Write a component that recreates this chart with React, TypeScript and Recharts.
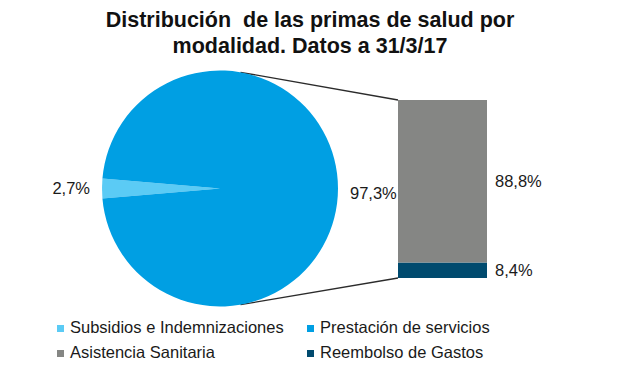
import React from 'react';
import { Bar, BarChart, Cell, LabelList, Pie, PieChart, XAxis, YAxis } from 'recharts';

// pie: modalidad
const pieNames = ['Subsidios e Indemnizaciones', 'Prestación de servicios'];
const pieValues = [2.7, 97.3];
const pieColors = ['#5BCBF5', '#009FE3'];

// barra: desglose de prestación de servicios
const barNames = ['Reembolso de Gastos', 'Asistencia Sanitaria'];
const barKeys = ['reembolso', 'asistencia'];
const barValues = [8.4, 88.8];
const barColors = ['#004A6E', '#858684'];

const legendItems = [
  { name: 'Subsidios e Indemnizaciones', color: '#5BCBF5' },
  { name: 'Prestación de servicios', color: '#009FE3' },
  { name: 'Asistencia Sanitaria', color: '#858684' },
  { name: 'Reembolso de Gastos', color: '#004A6E' },
];

const FONT = '"Liberation Sans", Arial, sans-serif';
const CX = 220;
const CY = 188.5;
const R = 118;
const BAR_X = 398;
const BAR_Y = 100;
const BAR_W = 89;
const BAR_H = 178;

const fmt = (v: number) => v.toFixed(1).replace('.', ',') + '%';

const pieData = pieNames.map((name, i) => ({ name, value: pieValues[i] }));
const barRow: Record<string, number | string> = { name: 'prestacion' };
barKeys.forEach((k, i) => (barRow[k] = barValues[i]));
const barData = [barRow];
const barTotal = barValues.reduce((a, b) => a + b, 0);

const half = (pieValues[0] / 100) * 180;
const START = 180 - half;

const RAD = Math.PI / 180;

function renderPieLabel(props: any) {
  const { cx, cy, midAngle, outerRadius, value } = props;
  const cos = Math.cos(-midAngle * RAD);
  const sin = Math.sin(-midAngle * RAD);
  const x = cx + (outerRadius + 12) * cos;
  const y = cy + (outerRadius + 12) * sin;
  return (
    <text
      x={x}
      y={y + (cos > 0 ? 4 : -1)}
      fill="#1a1a1a"
      fontSize={16.5}
      fontFamily={FONT}
      textAnchor={cos > 0 ? 'start' : 'end'}
      dominantBaseline="central"
    >
      {fmt(value)}
    </text>
  );
}

export default function App() {
  // conectores pie -> barra
  const a = 80 * RAD;
  const px = CX + R * Math.cos(a);
  const pyTop = CY - R * Math.sin(a);
  const pyBot = CY + R * Math.sin(a);

  return (
    <div style={{ position: 'absolute', left: 0, top: 0, width: 620, height: 368, background: '#fff', fontFamily: FONT, overflow: 'hidden' }}>
      <div
        style={{
          position: 'absolute', top: 7, left: 0, width: 620, textAlign: 'center',
          fontWeight: 'bold', fontSize: 21.5, lineHeight: '26px', color: '#111', whiteSpace: 'pre',
        }}
      >
        {'Distribución  de las primas de salud por\nmodalidad. Datos a 31/3/17'}
      </div>

      <svg width={620} height={368} style={{ position: 'absolute', left: 0, top: 0 }}>
        <line x1={px} y1={pyTop} x2={BAR_X} y2={BAR_Y} stroke="#2b2b2b" strokeWidth={1.3} />
        <line x1={px} y1={pyBot} x2={BAR_X} y2={BAR_Y + BAR_H} stroke="#2b2b2b" strokeWidth={1.3} />
      </svg>

      <div style={{ position: 'absolute', left: 0, top: 0 }}>
        <PieChart width={620} height={368} margin={{ top: 0, right: 0, bottom: 0, left: 0 }} style={{ overflow: 'visible' }}>
          <Pie
            data={pieData}
            dataKey="value"
            nameKey="name"
            cx={CX}
            cy={CY}
            outerRadius={R}
            startAngle={START}
            endAngle={START + 360}
            stroke="none"
            label={renderPieLabel}
            labelLine={false}
            isAnimationActive={false}
          >
            {pieData.map((d, i) => (
              <Cell key={d.name} fill={pieColors[i]} />
            ))}
          </Pie>
        </PieChart>
      </div>

      <div style={{ position: 'absolute', left: BAR_X, top: BAR_Y }}>
        <BarChart
          width={BAR_W + 80}
          height={BAR_H}
          data={barData}
          margin={{ top: 0, right: 80, bottom: 0, left: 0 }}
          barCategoryGap={0}
          style={{ overflow: 'visible' }}
        >
          <XAxis dataKey="name" hide />
          <YAxis hide domain={[0, barTotal]} />
          {barKeys.map((k, i) => (
            <Bar key={k} dataKey={k} name={barNames[i]} stackId="a" fill={barColors[i]} isAnimationActive={false}>
              <LabelList
                dataKey={k}
                position="right"
                offset={8}
                formatter={(v: any) => fmt(Number(v))}
                style={{ fill: '#1a1a1a', fontSize: 16.5, fontFamily: FONT }}
              />
            </Bar>
          ))}
        </BarChart>
      </div>

      {legendItems.map((it, i) => {
        const col = i % 2;
        const row = Math.floor(i / 2);
        return (
          <div
            key={it.name}
            style={{
              position: 'absolute', left: col === 0 ? 57 : 307, top: 318 + row * 25,
              display: 'flex', alignItems: 'center', fontSize: 16.5, lineHeight: '18px', color: '#1a1a1a', whiteSpace: 'nowrap',
            }}
          >
            <span style={{ width: 7, height: 7, background: it.color, display: 'inline-block', marginRight: 6, marginTop: 3 }} />
            <span>{it.name}</span>
          </div>
        );
      })}
    </div>
  );
}
